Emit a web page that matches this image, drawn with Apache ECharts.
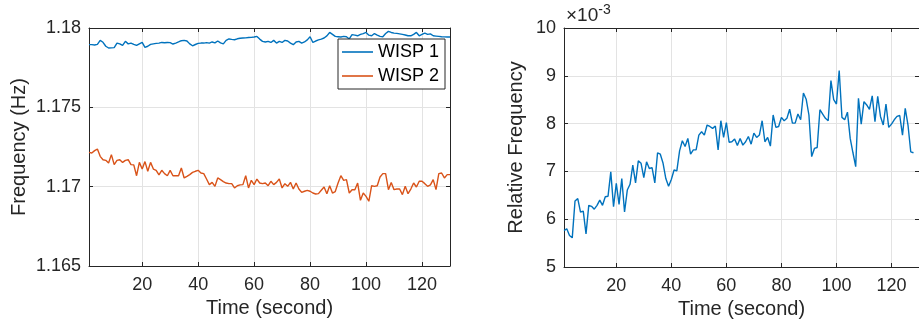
<!DOCTYPE html>
<html>
<head>
<meta charset="utf-8">
<script src="https://cdn.jsdelivr.net/npm/echarts@6/dist/echarts.min.js"></script>
<style>
  html, body { margin: 0; padding: 0; background: #fff; }
  #main { width: 919px; height: 330px; }
</style>
</head>
<body>
<div id="main"></div>
<script>
// time axis ticks (seconds)
var timeTicks = [20, 40, 60, 80, 100, 120];

// left panel: frequency of the two WISPs (Hz), one sample per second from t = 1
var wisp1 = [
  1.17895, 1.17895, 1.17893, 1.17897, 1.17922, 1.17910, 1.17885, 1.17874, 1.17875, 1.17876,
  1.17905, 1.17900, 1.17890, 1.17916, 1.17900, 1.17905, 1.17897, 1.17890, 1.17900, 1.17909,
  1.17878, 1.17885, 1.17897, 1.17900, 1.17903, 1.17905, 1.17909, 1.17907, 1.17909, 1.17908,
  1.17899, 1.17905, 1.17912, 1.17920, 1.17922, 1.17918, 1.17900, 1.17888, 1.17896, 1.17903,
  1.17905, 1.17905, 1.17908, 1.17905, 1.17912, 1.17906, 1.17918, 1.17906, 1.17900, 1.17922,
  1.17931, 1.17928, 1.17926, 1.17932, 1.17935, 1.17937, 1.17938, 1.17940, 1.17941, 1.17943,
  1.17947, 1.17930, 1.17916, 1.17912, 1.17916, 1.17909, 1.17922, 1.17905, 1.17916, 1.17909,
  1.17922, 1.17918, 1.17905, 1.17895, 1.17912, 1.17916, 1.17905, 1.17912, 1.17925, 1.17945,
  1.17909, 1.17918, 1.17925, 1.17930, 1.17937, 1.17950, 1.17972, 1.17960, 1.17947, 1.17945,
  1.17943, 1.17947, 1.17945, 1.17931, 1.17958, 1.17955, 1.17951, 1.17960, 1.17965, 1.17972,
  1.17955, 1.17951, 1.17965, 1.17955, 1.17947, 1.17945, 1.17965, 1.17979, 1.17972, 1.17968,
  1.17966, 1.17963, 1.17960, 1.17956, 1.17951, 1.17951, 1.17960, 1.17972, 1.17951, 1.17960,
  1.17968, 1.17960, 1.17963, 1.17951, 1.17949, 1.17947, 1.17945, 1.17944, 1.17943, 1.17943
];
var wisp2 = [
  1.17216, 1.17212, 1.17227, 1.17237, 1.17191, 1.17170, 1.17166, 1.17149, 1.17202, 1.17139,
  1.17166, 1.17170, 1.17153, 1.17166, 1.17170, 1.17139, 1.17137, 1.17069, 1.17153, 1.17111,
  1.17158, 1.17097, 1.17153, 1.17111, 1.17103, 1.17074, 1.17103, 1.17082, 1.17069, 1.17103,
  1.17069, 1.17069, 1.17069, 1.17118, 1.17055, 1.17065, 1.17076, 1.17090, 1.17097, 1.17103,
  1.17086, 1.17082, 1.17048, 1.17013, 1.17027, 1.17002, 1.17055, 1.17044, 1.17032, 1.17023,
  1.17019, 1.17019, 1.16992, 1.17006, 1.17011, 1.17013, 1.17069, 1.16992, 1.17040, 1.17013,
  1.17048, 1.17023, 1.17019, 1.17023, 1.17006, 1.17034, 1.17013, 1.17027, 1.17048, 1.16992,
  1.17019, 1.17002, 1.17027, 1.16985, 1.17023, 1.16985, 1.16964, 1.16971, 1.16977, 1.16971,
  1.16960, 1.16954, 1.16956, 1.16977, 1.16998, 1.16956, 1.17006, 1.16960, 1.16969, 1.17023,
  1.17069, 1.17040, 1.17044, 1.16960, 1.16981, 1.16981, 1.17023, 1.16914, 1.16960, 1.16939,
  1.16908, 1.17006, 1.17002, 1.17006, 1.17061, 1.17082, 1.17082, 1.16981, 1.17027, 1.16981,
  1.16985, 1.16985, 1.16950, 1.17002, 1.16956, 1.16985, 1.17023, 1.16998, 1.17034, 1.17034,
  1.17019, 1.17002, 1.17011, 1.17044, 1.16981, 1.17082, 1.17086, 1.17055, 1.17076, 1.17076
];

// right panel: relative frequency, in units of 1e-3
var relFreq = [
  5.76, 5.80, 5.66, 5.61, 6.38, 6.43, 6.15, 6.17, 5.69, 6.29,
  6.27, 6.21, 6.29, 6.40, 6.29, 6.47, 6.48, 6.99, 6.26, 6.75,
  6.31, 6.85, 6.15, 6.61, 6.73, 7.13, 6.76, 7.22, 7.17, 6.87,
  7.20, 7.06, 7.08, 6.76, 7.39, 7.36, 7.17, 6.85, 6.69, 6.83,
  7.03, 7.01, 7.43, 7.64, 7.52, 7.69, 7.36, 7.45, 7.45, 7.76,
  7.83, 7.76, 7.97, 7.94, 7.90, 7.95, 7.45, 8.06, 7.71, 8.02,
  7.61, 7.62, 7.68, 7.54, 7.69, 7.55, 7.62, 7.73, 7.57, 7.80,
  7.71, 7.76, 8.06, 7.62, 7.71, 7.53, 8.18, 7.92, 7.94, 8.13,
  8.06, 8.11, 8.30, 8.01, 8.01, 8.20, 8.08, 8.64, 8.51, 8.18,
  7.31, 7.48, 7.50, 8.29, 8.20, 8.11, 8.06, 8.90, 8.50, 8.41,
  9.11, 8.13, 8.08, 8.24, 7.69, 7.39, 7.10, 8.53, 7.99, 8.46,
  8.39, 8.30, 8.58, 8.04, 8.57, 8.15, 7.97, 8.41, 7.92, 7.99,
  8.08, 8.15, 8.17, 7.76, 8.32, 7.97, 7.41, 7.39
];

function pairs(vals) {
  return vals.map(function (v, i) { return [i + 1, v]; });
}

var FONT = "'Liberation Sans', Arial, Helvetica, sans-serif";
var INK = '#262626';
var GRIDC = '#e3e3e3';

function xBottom(gi) {
  return {
    type: 'value', gridIndex: gi, position: 'bottom', min: 1, max: 130,
    axisLine: { show: true, onZero: false, lineStyle: { color: INK, width: 1 } },
    axisTick: { show: true, inside: true, length: 4, customValues: timeTicks, lineStyle: { color: INK } },
    axisLabel: { customValues: timeTicks, color: INK, fontSize: 18, fontFamily: FONT, margin: 10 },
    splitLine: { show: true, lineStyle: { color: GRIDC, width: 1 } },
    name: 'Time (second)', nameLocation: 'middle', nameGap: 30,
    nameTextStyle: { color: INK, fontSize: 20, fontFamily: FONT }
  };
}
function xTop(gi) {
  return {
    type: 'value', gridIndex: gi, position: 'top', min: 1, max: 130,
    axisLine: { show: true, onZero: false, lineStyle: { color: INK, width: 1 } },
    axisTick: { show: true, inside: true, length: 4, customValues: timeTicks, lineStyle: { color: INK } },
    axisLabel: { show: false },
    splitLine: { show: false }
  };
}
function yLeft(gi, min, max, step, name, gap, fmt) {
  return {
    type: 'value', gridIndex: gi, position: 'left', min: min, max: max, interval: step,
    axisLine: { show: true, onZero: false, lineStyle: { color: INK, width: 1 } },
    axisTick: { show: true, inside: true, length: 4, lineStyle: { color: INK } },
    axisLabel: { color: INK, fontSize: 18, fontFamily: FONT, margin: 8, formatter: fmt },
    splitLine: { show: true, lineStyle: { color: GRIDC, width: 1 } },
    name: name, nameLocation: 'middle', nameGap: gap,
    nameTextStyle: { color: INK, fontSize: 20, fontFamily: FONT }
  };
}
function yRight(gi, min, max, step) {
  return {
    type: 'value', gridIndex: gi, position: 'right', min: min, max: max, interval: step,
    axisLine: { show: true, onZero: false, lineStyle: { color: INK, width: 1 } },
    axisTick: { show: true, inside: true, length: 4, lineStyle: { color: INK } },
    axisLabel: { show: false },
    splitLine: { show: false }
  };
}

var chart = echarts.init(document.getElementById('main'));

var option = {
  backgroundColor: '#fff',
  animation: false,
  grid: [
    { left: 89, top: 28, width: 361, height: 238 },
    { left: 564, top: 28, width: 361, height: 239 }
  ],
  xAxis: [xBottom(0), xTop(0), xBottom(1), xTop(1)],
  yAxis: [
    yLeft(0, 1.165, 1.18, 0.005, 'Frequency (Hz)', 60, function (v) { return String(+v.toFixed(3)); }),
    yRight(0, 1.165, 1.18, 0.005),
    yLeft(1, 5, 10, 1, 'Relative Frequency', 38, function (v) { return String(v); }),
    yRight(1, 5, 10, 1)
  ],
  legend: {
    data: ['WISP 1', 'WISP 2'],
    orient: 'vertical',
    left: 338, top: 39,
    icon: 'rect',
    backgroundColor: '#fff',
    borderColor: INK, borderWidth: 1,
    padding: [4, 6, 4, 4],
    itemWidth: 31, itemHeight: 1.6, itemGap: 6,
    textStyle: { color: '#000', fontSize: 18, fontFamily: FONT, padding: [0, 0, 0, 0] }
  },
  graphic: [{
    type: 'text', left: 566, top: 3,
    style: {
      text: '{a|×10}{b|-3}',
      rich: {
        a: { fontSize: 19, fontFamily: FONT, fill: INK, verticalAlign: 'bottom' },
        b: { fontSize: 14, fontFamily: FONT, fill: INK, verticalAlign: 'top', padding: [0, 0, 8, 0] }
      }
    }
  }],
  series: [
    {
      name: 'WISP 1', type: 'line', xAxisIndex: 0, yAxisIndex: 0,
      data: pairs(wisp1), symbol: 'none', color: '#0072BD',
      lineStyle: { width: 1.4 }
    },
    {
      name: 'WISP 2', type: 'line', xAxisIndex: 0, yAxisIndex: 0,
      data: pairs(wisp2), symbol: 'none', color: '#D95319',
      lineStyle: { width: 1.4 }
    },
    {
      name: 'Relative Frequency', type: 'line', xAxisIndex: 2, yAxisIndex: 2,
      data: pairs(relFreq), symbol: 'none', color: '#0072BD',
      lineStyle: { width: 1.4 }
    }
  ]
};

chart.setOption(option);
</script>
</body>
</html>
